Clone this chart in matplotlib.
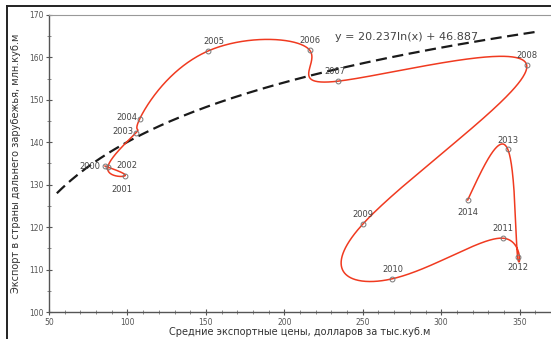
import numpy as np
import matplotlib
matplotlib.use("Agg")
from matplotlib import pyplot as plt
from matplotlib.lines import Line2D

# data
years = ["2000", "2001", "2002", "2003", "2004", "2005", "2006", "2007",
         "2008", "2009", "2010", "2011", "2012", "2013", "2014"]
price = [85.7, 98.4, 87.5, 105.4, 107.8, 151.3, 216.2, 234.1,
         354.5, 250.0, 268.5, 339.2, 348.7, 342.4, 316.9]
export = [134.4, 132.1, 134.2, 142.2, 145.5, 161.5, 161.7, 154.4,
          158.2, 120.7, 107.8, 117.4, 113.0, 138.4, 126.4]

# label offsets in points (dx, dy, ha)
label_pos = [(-3, 0, "right"), (-2, -10, "center"), (6, 1, "left"), (-2, 1, "right"),
             (-2, 1, "right"), (4, 7, "center"), (0, 7, "center"), (-2, 7, "center"),
             (0, 7, "center"), (0, 7, "center"), (1, 7, "center"), (0, 7, "center"),
             (0, -8, "center"), (0, 6, "center"), (0, -9, "center")]

trend_a = 20.237
trend_b = 46.887
trend_x = (55, 361)


def natural(t, y, tt):
    # natural cubic spline of y over t, evaluated at tt
    n = len(t)
    h = np.diff(t)
    A = np.zeros((n, n))
    b = np.zeros(n)
    A[0, 0] = 1
    A[-1, -1] = 1
    for i in range(1, n - 1):
        A[i, i - 1] = h[i - 1]
        A[i, i] = 2 * (h[i - 1] + h[i])
        A[i, i + 1] = h[i]
        b[i] = 6 * ((y[i + 1] - y[i]) / h[i] - (y[i] - y[i - 1]) / h[i - 1])
    M = np.linalg.solve(A, b)
    idx = np.clip(np.searchsorted(t, tt) - 1, 0, n - 2)
    a = t[idx + 1] - tt
    c = tt - t[idx]
    hi = h[idx]
    return (M[idx] * a ** 3 / (6 * hi) + M[idx + 1] * c ** 3 / (6 * hi)
            + (y[idx] / hi - M[idx] * hi / 6) * a
            + (y[idx + 1] / hi - M[idx + 1] * hi / 6) * c)


fig = plt.figure(figsize=(5.51, 3.39), dpi=100)
ax = fig.add_axes([49 / 551, 27 / 339, 502 / 551, 297 / 339])

# trend
tx = np.linspace(trend_x[0], trend_x[1], 200)
ax.plot(tx, trend_a * np.log(tx) + trend_b, color="#1a1a1a", lw=1.6,
        dashes=(5, 2.5), zorder=2)

# smooth line through the years
x = np.array(price)
y = np.array(export)
t = np.arange(len(x), dtype=float)
tt = np.linspace(0, t[-1], 1500)
ax.plot(natural(t, x, tt), natural(t, y, tt), color="#f03a20", lw=1.1, zorder=3)
ax.plot(price, export, "o", ms=3.5, mfc="none", mec="#777777", mew=0.7, zorder=4)

for yr, px, py, (dx, dy, ha) in zip(years, price, export, label_pos):
    ax.annotate(yr, (px, py), xytext=(dx, dy), textcoords="offset points",
                ha=ha, va="center", fontsize=6, color="#444444")

ax.text(0.57, 0.925, "y = 20.237ln(x) + 46.887", transform=ax.transAxes,
        fontsize=8, color="#444444", ha="left", va="center")

ax.set_xlim(50, 370)
ax.set_ylim(100, 170)
ax.set_xticks(np.arange(50, 351, 50))
ax.set_xticks(np.arange(50, 371, 10), minor=True)
ax.set_yticks(np.arange(100, 171, 10))
ax.set_yticks(np.arange(100, 171, 5), minor=True)
ax.tick_params(which="major", direction="inout", length=5, width=0.8,
               labelsize=5.5, labelcolor="#555555", color="#555555", pad=1.5)
ax.tick_params(which="minor", direction="inout", length=3, width=0.6, color="#777777")

for s in ["left", "bottom"]:
    ax.spines[s].set_color("#555555")
    ax.spines[s].set_linewidth(1.0)
ax.spines["top"].set_color("#999999")
ax.spines["top"].set_linewidth(0.8)
ax.spines["right"].set_visible(False)

ax.set_xlabel("Средние экспортные цены, долларов за тыс.куб.м", fontsize=7,
              color="#333333", labelpad=0.5)
ax.set_ylabel("Экспорт в страны дальнего зарубежья, млн.куб.м", fontsize=7,
              color="#333333", labelpad=6)

# outer frame of the picture
fig.add_artist(Line2D([7 / 551, 7 / 551], [0, 333 / 339], color="#222222", lw=1.4))
fig.add_artist(Line2D([7 / 551, 1], [333 / 339, 333 / 339], color="#222222", lw=1.4))

fig.savefig("out.png", dpi=100)
